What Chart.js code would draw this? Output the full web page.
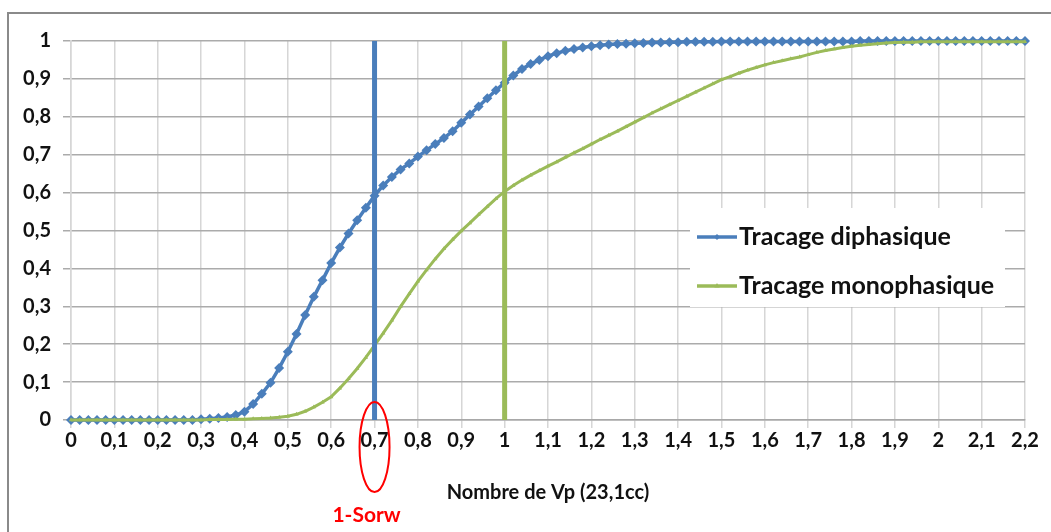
<!DOCTYPE html>
<html>
<head>
<meta charset="utf-8">
<script src="https://cdn.jsdelivr.net/npm/chart.js@4.4.1/dist/chart.umd.min.js"></script>
<style>
  html, body { margin: 0; padding: 0; background: #fff; }
  #wrap { position: relative; width: 1051px; height: 532px; }
</style>
</head>
<body>
<div id="wrap"><canvas id="chart" width="1051" height="532"></canvas></div>
<script>
// Nombre de Vp (pas de 0,02)
const vpValues = [
    0, 0.02, 0.04, 0.06, 0.08, 0.10, 0.12, 0.14, 0.16, 0.18,
    0.20, 0.22, 0.24, 0.26, 0.28, 0.30, 0.32, 0.34, 0.36, 0.38,
    0.40, 0.42, 0.44, 0.46, 0.48, 0.50, 0.52, 0.54, 0.56, 0.58,
    0.60, 0.62, 0.64, 0.66, 0.68, 0.70, 0.72, 0.74, 0.76, 0.78,
    0.80, 0.82, 0.84, 0.86, 0.88, 0.90, 0.92, 0.94, 0.96, 0.98,
    1.00, 1.02, 1.04, 1.06, 1.08, 1.10, 1.12, 1.14, 1.16, 1.18,
    1.20, 1.22, 1.24, 1.26, 1.28, 1.30, 1.32, 1.34, 1.36, 1.38,
    1.40, 1.42, 1.44, 1.46, 1.48, 1.50, 1.52, 1.54, 1.56, 1.58,
    1.60, 1.62, 1.64, 1.66, 1.68, 1.70, 1.72, 1.74, 1.76, 1.78,
    1.80, 1.82, 1.84, 1.86, 1.88, 1.90, 1.92, 1.94, 1.96, 1.98,
    2.00, 2.02, 2.04, 2.06, 2.08, 2.10, 2.12, 2.14, 2.16, 2.18,
    2.20
];

const diphasique = [
    0, 0, 0, 0, 0, 0, 0, 0, 0, 0,
    0, 0, 0, 0, 0, 0.002, 0.003, 0.005, 0.008, 0.013,
    0.022, 0.042, 0.069, 0.098, 0.137, 0.180, 0.227, 0.277, 0.325, 0.369,
    0.414, 0.455, 0.492, 0.527, 0.560, 0.592, 0.619, 0.641, 0.661, 0.677,
    0.695, 0.712, 0.728, 0.744, 0.762, 0.784, 0.806, 0.827, 0.849, 0.870,
    0.890, 0.909, 0.926, 0.939, 0.950, 0.960, 0.968, 0.974, 0.979, 0.983,
    0.986, 0.989, 0.991, 0.992, 0.993, 0.994, 0.995, 0.996, 0.996, 0.997,
    0.997, 0.998, 0.998, 0.998, 0.998, 0.999, 0.999, 0.999, 0.999, 0.999,
    0.999, 0.999, 0.999, 0.999, 0.999, 0.999, 0.999, 0.999, 0.999, 0.999,
    0.999, 1, 1, 1, 1, 1, 1, 1, 1, 1,
    1, 1, 1, 1, 1, 1, 1, 1, 1, 1,
    1
];

const monophasique = [
    0, 0, 0, 0, 0, 0, 0, 0, 0, 0,
    0, 0, 0, 0, 0, 0, 0.001, 0.001, 0.001, 0.002,
    0.002, 0.003, 0.004, 0.005, 0.007, 0.010, 0.015, 0.023, 0.034, 0.047,
    0.061, 0.084, 0.109, 0.136, 0.165, 0.197, 0.229, 0.263, 0.299, 0.333,
    0.366, 0.396, 0.425, 0.452, 0.476, 0.499, 0.520, 0.542, 0.563, 0.584,
    0.603, 0.619, 0.633, 0.646, 0.658, 0.670, 0.681, 0.693, 0.705, 0.716,
    0.728, 0.740, 0.751, 0.762, 0.774, 0.786, 0.798, 0.810, 0.821, 0.832,
    0.843, 0.854, 0.865, 0.876, 0.887, 0.898, 0.906, 0.915, 0.923, 0.930,
    0.937, 0.943, 0.948, 0.953, 0.958, 0.964, 0.970, 0.975, 0.979, 0.983,
    0.986, 0.989, 0.991, 0.993, 0.995, 0.996, 0.997, 0.997, 0.998, 0.998,
    0.998, 0.998, 0.998, 0.998, 0.998, 0.998, 0.998, 0.998, 0.998, 0.998,
    0.998
];

// repères verticaux
const sorwX = 0.7;   // 1-Sorw
const oneVpX = 1;

const xTickLabels = ['0', '0,1', '0,2', '0,3', '0,4', '0,5', '0,6', '0,7', '0,8', '0,9', '1',
    '1,1', '1,2', '1,3', '1,4', '1,5', '1,6', '1,7', '1,8', '1,9', '2', '2,1', '2,2'];
const yTickLabels = ['0', '0,1', '0,2', '0,3', '0,4', '0,5', '0,6', '0,7', '0,8', '0,9', '1'];

const seriesNames = ['Tracage diphasique', 'Tracage monophasique'];
const BLUE = '#4a7ebb';
const GREEN = '#9bbb59';

Chart.defaults.font.family = 'Lato';
Chart.defaults.color = '#111';

const toPoints = ys => vpValues.map((x, i) => ({ x: x, y: ys[i] }));

// legende + annotations dessinees sur le canvas
const extras = {
    id: 'extras',
    afterDraw(chart) {
        const ctx = chart.ctx;
        const xs = chart.scales.x;
        const area = chart.chartArea;
        ctx.save();

        // cadre exterieur
        ctx.strokeStyle = '#8a8a8a';
        ctx.lineWidth = 2;
        ctx.beginPath();
        ctx.moveTo(1051, 13);
        ctx.lineTo(8, 13);
        ctx.lineTo(8, 532);
        ctx.stroke();

        // legende
        ctx.fillStyle = '#fff';
        ctx.fillRect(690, 208, 315, 99);
        const entries = [
            { label: seriesNames[0], color: BLUE, y: 237, style: 'rectRot' },
            { label: seriesNames[1], color: GREEN, y: 286, style: 'triangle' }
        ];
        entries.forEach(e => {
            ctx.strokeStyle = e.color;
            ctx.lineWidth = 3.5;
            ctx.beginPath();
            ctx.moveTo(697, e.y);
            ctx.lineTo(737, e.y);
            ctx.stroke();
            ctx.fillStyle = e.color;
            Chart.helpers.drawPoint(ctx, { pointStyle: e.style, radius: 3, borderWidth: 0 }, 717, e.y);
            ctx.fillStyle = '#111';
            ctx.font = 'bold 25px Lato';
            ctx.textBaseline = 'middle';
            ctx.textAlign = 'left';
            ctx.fillText(e.label, 739, e.y);
        });

        // ellipse 1-Sorw
        const cx = xs.getPixelForValue(sorwX);
        ctx.strokeStyle = '#ff0000';
        ctx.lineWidth = 2;
        ctx.beginPath();
        ctx.ellipse(cx, area.bottom + 27, 15, 45, 0, 0, Math.PI * 2);
        ctx.stroke();
        ctx.fillStyle = '#ff0000';
        ctx.font = 'bold 21px Lato';
        ctx.textAlign = 'center';
        ctx.textBaseline = 'middle';
        ctx.fillText('1-Sorw', cx - 8, 515);
        ctx.restore();
    }
};

new Chart(document.getElementById('chart'), {
    type: 'line',
    data: {
        datasets: [
            {
                label: seriesNames[0],
                data: toPoints(diphasique),
                borderColor: BLUE,
                backgroundColor: BLUE,
                borderWidth: 3.5,
                pointStyle: 'rectRot',
                pointRadius: 5,
                pointBorderWidth: 0,
                tension: 0,
                clip: 8,
                order: 4
            },
            {
                label: seriesNames[1],
                data: toPoints(monophasique),
                borderColor: GREEN,
                backgroundColor: GREEN,
                borderWidth: 3,
                pointStyle: 'triangle',
                pointRadius: 2.5,
                pointBorderWidth: 0,
                tension: 0,
                clip: 8,
                order: 3
            },
            {
                label: '1-Sorw',
                data: [{ x: sorwX, y: 0 }, { x: sorwX, y: 1 }],
                borderColor: BLUE,
                borderWidth: 5,
                pointRadius: 0,
                clip: 8,
                order: 2
            },
            {
                label: '1 Vp',
                data: [{ x: oneVpX, y: 0 }, { x: oneVpX, y: 1 }],
                borderColor: GREEN,
                borderWidth: 5,
                pointRadius: 0,
                clip: 8,
                order: 1
            }
        ]
    },
    options: {
        responsive: false,
        animation: false,
        layout: { padding: { top: 41, right: 26, left: 0, bottom: 0 } },
        plugins: { legend: { display: false }, tooltip: { enabled: false } },
        scales: {
            x: {
                type: 'linear',
                min: 0,
                max: 2.2,
                afterFit: s => { s.height = 112; },
                ticks: {
                    stepSize: 0.1,
                    autoSkip: false,
                    maxRotation: 0,
                    padding: 1,
                    font: { size: 20, weight: 'bold' },
                    color: '#111',
                    callback: (v, i) => xTickLabels[i]
                },
                grid: { color: '#d6d6d6', lineWidth: 1.5, tickLength: 8 },
                border: { color: '#a8a8a8', width: 1.5 },
                title: {
                    display: true,
                    text: 'Nombre de Vp (23,1cc)',
                    font: { size: 20, weight: 'bold' },
                    color: '#111',
                    padding: { top: 0, bottom: 27 }
                }
            },
            y: {
                min: 0,
                max: 1,
                afterFit: s => { s.width = 71; },
                ticks: {
                    stepSize: 0.1,
                    padding: 12,
                    font: { size: 20, weight: 'bold' },
                    color: '#111',
                    callback: (v, i) => yTickLabels[i]
                },
                grid: { color: '#ababab', lineWidth: 1.5, tickLength: 8 },
                border: { color: '#d6d6d6', width: 1.5 }
            }
        }
    },
    plugins: [extras]
});
</script>
</body>
</html>
